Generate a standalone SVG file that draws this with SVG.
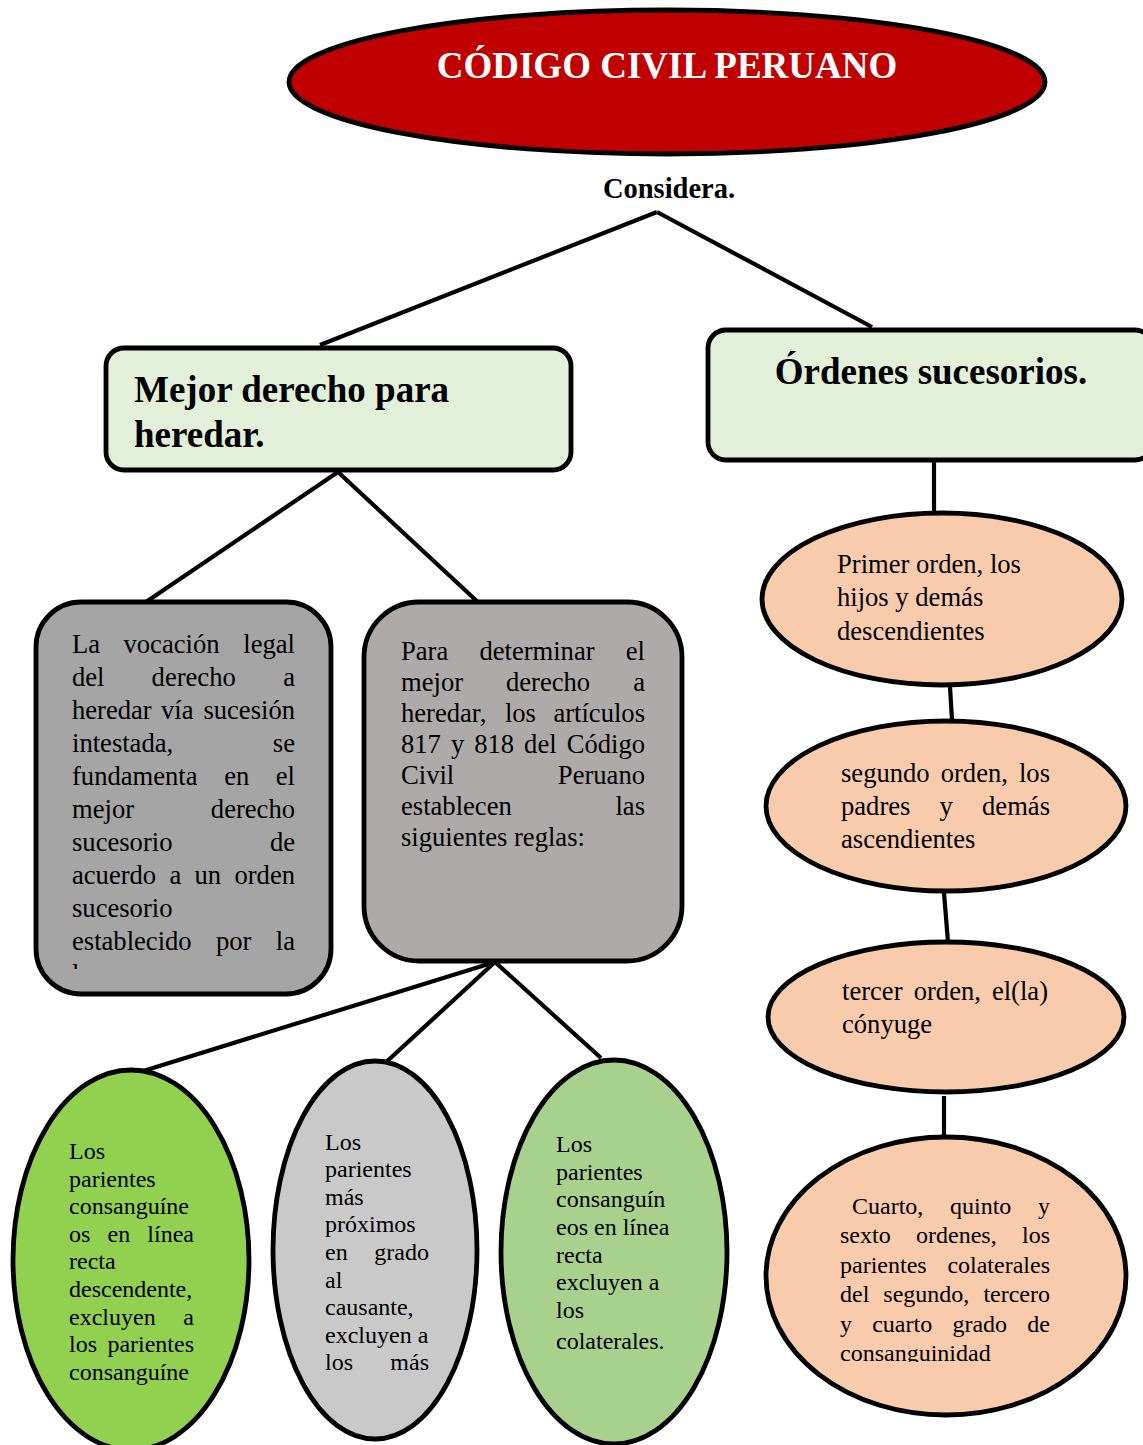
<svg xmlns="http://www.w3.org/2000/svg" width="1143" height="1445" viewBox="0 0 1143 1445">
<style>
.sh{stroke:#000;stroke-width:4.8}
.ln{stroke:#000;stroke-width:4.2;fill:none}
.t{font-family:"Liberation Serif","Times New Roman",serif;fill:#000}
.b{font-weight:bold}
.f26{font-size:26.6px}
.f24{font-size:24px}
.e{text-anchor:end}
</style>
<defs>
<clipPath id="c1"><rect x="0" y="0" width="1143" height="969"/></clipPath>
<clipPath id="c2"><rect x="0" y="0" width="1143" height="1362"/></clipPath>
</defs>
<rect width="1143" height="1445" fill="#fff"/>

<g id="connectors">
<line class="ln" x1="657" y1="212" x2="320" y2="345"/>
<line class="ln" x1="657" y1="212" x2="872" y2="327"/>
<line class="ln" x1="338" y1="472" x2="143" y2="604"/>
<line class="ln" x1="338" y1="472" x2="480" y2="604"/>
<line class="ln" x1="495" y1="962" x2="140" y2="1072"/>
<line class="ln" x1="495" y1="962" x2="383" y2="1065"/>
<line class="ln" x1="495" y1="962" x2="601" y2="1058"/>
<line class="ln" x1="934" y1="462" x2="934" y2="512"/>
<line class="ln" x1="950" y1="687" x2="952" y2="720"/>
<line class="ln" x1="944" y1="893" x2="948" y2="942"/>
<line class="ln" x1="944" y1="1096" x2="944" y2="1138"/>
</g>

<g id="title">
<ellipse class="sh" cx="667" cy="82" rx="378" ry="72" fill="#C00000"/>
<text class="t b" x="667" y="78" font-size="37" style="fill:#fff" text-anchor="middle">CÓDIGO CIVIL PERUANO</text>
</g>

<g id="considera">
<text class="t b" x="669" y="198" font-size="28.5" text-anchor="middle">Considera.</text>
</g>

<g id="mejor">
<rect class="sh" x="106" y="348" width="465" height="122" rx="18" fill="#E2EFD9"/>
<text class="t b" font-size="37"><tspan x="134" y="402">Mejor derecho para</tspan><tspan x="134" y="447">heredar.</tspan></text>
</g>

<g id="ordenes">
<rect class="sh" x="708" y="330" width="445" height="130" rx="18" fill="#E2EFD9"/>
<text class="t b" x="931" y="384" font-size="37" text-anchor="middle">Órdenes sucesorios.</text>
</g>

<g id="vocacion">
<rect class="sh" x="36" y="602" width="295" height="392" rx="45" fill="#A5A5A5"/>
<g class="t f26" clip-path="url(#c1)">
<text x="72" y="653">La</text><text x="123.5" y="653">vocación</text><text class="e" x="295" y="653">legal</text>
<text x="72" y="686">del</text><text x="151.6" y="686">derecho</text><text class="e" x="295" y="686">a</text>
<text x="72" y="719">heredar</text><text x="161" y="719">vía</text><text class="e" x="295" y="719">sucesión</text>
<text x="72" y="752">intestada,</text><text class="e" x="295" y="752">se</text>
<text x="72" y="785">fundamenta</text><text x="224.2" y="785">en</text><text class="e" x="295" y="785">el</text>
<text x="72" y="818">mejor</text><text class="e" x="295" y="818">derecho</text>
<text x="72" y="851">sucesorio</text><text class="e" x="295" y="851">de</text>
<text x="72" y="884">acuerdo</text><text x="169.5" y="884">a</text><text x="194.4" y="884">un</text><text class="e" x="295" y="884">orden</text>
<text x="72" y="917">sucesorio</text>
<text x="72" y="950">establecido</text><text x="216" y="950">por</text><text class="e" x="295" y="950">la</text>
<text x="72" y="983">ley.</text>
</g>
</g>

<g id="reglas">
<rect class="sh" x="364" y="602" width="318" height="359" rx="55" fill="#AEAAAA"/>
<g class="t f26">
<text x="401" y="660">Para</text><text x="479.4" y="660">determinar</text><text class="e" x="645" y="660">el</text>
<text x="401" y="691">mejor</text><text x="506" y="691">derecho</text><text class="e" x="645" y="691">a</text>
<text x="401" y="722">heredar,</text><text x="504.9" y="722">los</text><text class="e" x="645" y="722">artículos</text>
<text x="401" y="753">817</text><text x="450.9" y="753">y</text><text x="474.2" y="753">818</text><text x="524.1" y="753">del</text><text class="e" x="645" y="753">Código</text>
<text x="401" y="784">Civil</text><text class="e" x="645" y="784">Peruano</text>
<text x="401" y="815">establecen</text><text class="e" x="645" y="815">las</text>
<text x="401" y="846">siguientes reglas:</text>
</g>
</g>

<g id="linea-recta">
<ellipse class="sh" cx="131" cy="1260" rx="118" ry="190" fill="#92D050"/>
<g class="t f24">
<text x="69" y="1159">Los</text>
<text x="69" y="1187">parientes</text>
<text x="69" y="1214">consanguíne</text>
<text x="69" y="1242">os</text><text x="107.5" y="1242">en</text><text class="e" x="194" y="1242">línea</text>
<text x="69" y="1269">recta</text>
<text x="69" y="1297">descendente,</text>
<text x="69" y="1325">excluyen</text><text class="e" x="194" y="1325">a</text>
<text x="69" y="1352">los</text><text class="e" x="194" y="1352">parientes</text>
<text x="69" y="1380">consanguíne</text>
</g>
</g>

<g id="proximos">
<ellipse class="sh" cx="375" cy="1250" rx="102" ry="189" fill="#C9C9C9"/>
<g class="t f24">
<text x="325" y="1150">Los</text>
<text x="325" y="1177">parientes</text>
<text x="325" y="1205">más</text>
<text x="325" y="1232">próximos</text>
<text x="325" y="1260">en</text><text class="e" x="429" y="1260">grado</text>
<text x="325" y="1288">al</text>
<text x="325" y="1315">causante,</text>
<text x="325" y="1343">excluyen a</text>
<text x="325" y="1370">los</text><text class="e" x="429" y="1370">más</text>
</g>
</g>

<g id="colaterales">
<ellipse class="sh" cx="614" cy="1252" rx="113" ry="192" fill="#A9D18E"/>
<g class="t f24">
<text x="556" y="1152">Los</text>
<text x="556" y="1180">parientes</text>
<text x="556" y="1207">consanguín</text>
<text x="556" y="1235">eos en línea</text>
<text x="556" y="1263">recta</text>
<text x="556" y="1290">excluyen a</text>
<text x="556" y="1318">los</text>
<text x="556" y="1349">colaterales.</text>
</g>
</g>

<g id="primer">
<ellipse class="sh" cx="942" cy="599" rx="180" ry="86" fill="#F8CBAD"/>
<g class="t f26">
<text x="837" y="573">Primer orden, los</text>
<text x="837" y="606">hijos y demás</text>
<text x="837" y="640">descendientes</text>
</g>
</g>

<g id="segundo">
<ellipse class="sh" cx="946" cy="806" rx="180" ry="85" fill="#F8CBAD"/>
<g class="t f26">
<text x="841" y="782">segundo</text><text x="940.7" y="782">orden,</text><text class="e" x="1050" y="782">los</text>
<text x="841" y="815">padres</text><text x="939.6" y="815">y</text><text class="e" x="1050" y="815">demás</text>
<text x="841" y="848">ascendientes</text>
</g>
</g>

<g id="tercer">
<ellipse class="sh" cx="946" cy="1017" rx="178" ry="75" fill="#F8CBAD"/>
<g class="t f26">
<text x="842" y="1000">tercer</text><text x="913.7" y="1000">orden,</text><text class="e" x="1048" y="1000">el(la)</text>
<text x="842" y="1033">cónyuge</text>
</g>
</g>

<g id="cuarto">
<ellipse class="sh" cx="946" cy="1276" rx="180" ry="139" fill="#F8CBAD"/>
<g class="t f24" clip-path="url(#c2)">
<text x="852" y="1214">Cuarto,</text><text x="950" y="1214">quinto</text><text class="e" x="1050" y="1214">y</text>
<text x="840" y="1243">sexto</text><text x="916" y="1243">ordenes,</text><text class="e" x="1050" y="1243">los</text>
<text x="840" y="1273">parientes</text><text class="e" x="1050" y="1273">colaterales</text>
<text x="840" y="1302">del</text><text x="883.3" y="1302">segundo,</text><text class="e" x="1050" y="1302">tercero</text>
<text x="840" y="1332">y</text><text x="872.2" y="1332">cuarto</text><text x="952.4" y="1332">grado</text><text class="e" x="1050" y="1332">de</text>
<text x="840" y="1361">consanguinidad</text>
</g>
</g>
</svg>
